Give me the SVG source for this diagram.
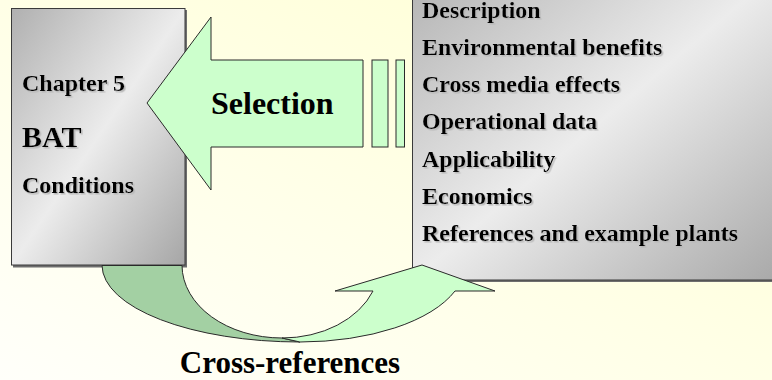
<svg xmlns="http://www.w3.org/2000/svg" width="772" height="380" viewBox="0 0 772 380">
  <defs>
    <linearGradient id="bgGrad" x1="0" y1="1" x2="1" y2="0">
      <stop offset="0" stop-color="#fffffa"/>
      <stop offset="1" stop-color="#ffffd2"/>
    </linearGradient>
    <linearGradient id="boxGrad" x1="0" y1="0" x2="1" y2="1">
      <stop offset="0" stop-color="#b0b0b0"/>
      <stop offset="0.5" stop-color="#ececec"/>
      <stop offset="1" stop-color="#a6a6a6"/>
    </linearGradient>
    <filter id="textShadow" x="-5%" y="-20%" width="115%" height="150%">
      <feDropShadow dx="1.5" dy="1.5" stdDeviation="0.2" flood-color="#b8b8b8" flood-opacity="1"/>
    </filter>
  </defs>
  <style>
    .box { fill: url(#boxGrad); stroke: #3a3a3a; stroke-width: 1; }
    .shadow { fill: #6e6e6e; }
    .txt { font-family: "Liberation Serif", "Times New Roman", serif; font-weight: bold; fill: #000; }
    .sm { font-size: 24px; filter: url(#textShadow); }
    .light { fill: #ccffcc; stroke: #2a2a2a; stroke-width: 1; stroke-linejoin: miter; }
    .dark { fill: #a3d0a3; stroke: #2a2a2a; stroke-width: 1; }
  </style>

  <rect id="background" x="0" y="0" width="772" height="380" fill="url(#bgGrad)"/>

  <g id="node-chapter5">
    <rect class="shadow" x="13" y="10" width="174" height="257.5"/>
    <rect class="box" x="11.5" y="8.5" width="173.5" height="256.5"/>
    <text class="txt sm" x="22" y="91">Chapter 5</text>
    <text class="txt sm" x="22" y="147" style="font-size:30px">BAT</text>
    <text class="txt sm" x="22" y="193">Conditions</text>
  </g>

  <g id="node-techniques">
    <rect class="shadow" x="414" y="-38" width="380" height="320"/>
    <rect class="box" x="412.5" y="-40" width="380" height="320"/>
    <text class="txt sm" x="422" y="18">Description</text>
    <text class="txt sm" x="422" y="55">Environmental benefits</text>
    <text class="txt sm" x="422" y="92">Cross media effects</text>
    <text class="txt sm" x="422" y="129">Operational data</text>
    <text class="txt sm" x="422" y="167">Applicability</text>
    <text class="txt sm" x="422" y="204">Economics</text>
    <text class="txt sm" x="422" y="241">References and example plants</text>
  </g>

  <g id="connectors">
    <g id="selection-arrow">
      <path class="light" d="M363,60 L211,60 L211,17 L147,103 L211,190 L211,147 L363,147 Z"/>
      <rect class="light" x="372" y="60" width="16" height="87"/>
      <rect class="light" x="396" y="60" width="8.5" height="87"/>
      <text class="txt" x="211" y="114" style="font-size:32px">Selection</text>
    </g>
    <g id="crossref-arrow">
      <path class="dark" d="M102,265.5 A198,77 0 0 0 300,342 L282,338 A100,73 0 0 1 182,265.5 Z"/>
      <path class="light" d="M282,338 A97,73 0 0 0 373,291 L335,291 L422,265 L495,291 L455,291 A165,77 0 0 1 300,342 Z"/>
      <text class="txt" x="290" y="373" text-anchor="middle" style="font-size:31px">Cross-references</text>
    </g>
  </g>
</svg>
